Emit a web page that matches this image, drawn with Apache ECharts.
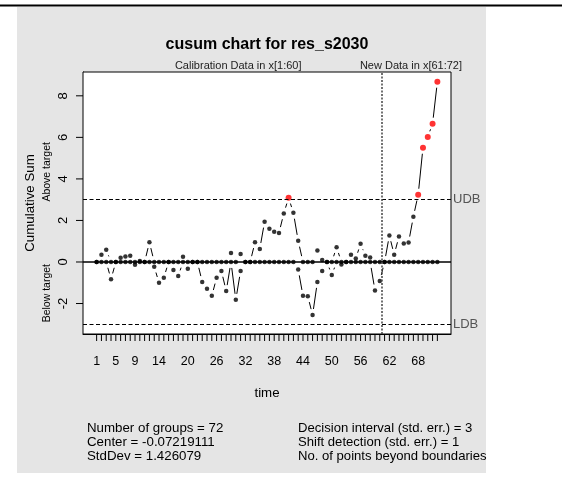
<!DOCTYPE html>
<html>
<head>
<meta charset="utf-8">
<script src="https://cdn.jsdelivr.net/npm/echarts@6/dist/echarts.min.js"></script>
<style>
  html, body { margin: 0; padding: 0; background: #fff; }
  #chart { width: 562px; height: 504px; }
</style>
</head>
<body>
<div id="chart"></div>
<script>
// Upper (above target) cumulative sums, one per group
const cusumPos = [
  0, 0.35, 0.59, 0, 0, 0.20, 0.26, 0.30, 0, 0.05,
  0, 0.95, 0, 0, 0, 0, 0, 0, 0.25, 0,
  0, 0, 0, 0, 0, 0, 0, 0, 0.43, 0,
  0.38, 0, 0, 0.95, 0.63, 1.94, 1.60, 1.45, 1.40, 2.34,
  3.09, 2.37, 1.02, 0, 0, 0, 0.55, 0.10, 0, 0,
  0.71, 0, 0, 0.35, 0.17, 0.88, 0.30, 0.22, 0, 0,
  0, 1.28, 0.35, 1.23, 0.89, 0.94, 2.18, 3.24, 5.50, 6.02,
  6.66, 8.68
];
// Lower (below target) cumulative sums, drawn as negative values
const cusumNeg = [
  0, 0, 0, -0.83, 0, 0, 0, 0, -0.13, 0,
  0, 0, -0.23, -1.00, -0.76, 0, -0.39, -0.68, 0, -0.33,
  0, 0, -0.96, -1.29, -1.63, -0.76, -0.43, -1.40, 0, -1.82,
  -0.43, 0, 0, 0, 0, 0, 0, 0, 0, 0,
  0, 0, -0.36, -1.63, -1.65, -2.55, -0.96, -0.43, 0, -0.63,
  0, -0.12, 0, 0, 0, 0, 0, 0, -1.37, -0.91,
  0, 0, 0, 0, 0, 0, 0, 0, 0, 0,
  0, 0
];
const xTickLabels = [1, 5, 9, 14, 20, 26, 32, 38, 44, 50, 56, 62, 68];
const yTickLabels = [-2, 0, 2, 4, 6, 8];
const decisionInterval = 3;
const calibrationSize = 60;
const statsLeft = [
  'Number of groups = 72',
  'Center = -0.07219111',
  'StdDev = 1.426079'
];
const statsRight = [
  'Decision interval (std. err.) = 3',
  'Shift detection (std. err.) = 1',
  'No. of points beyond boundaries'
];

const FONT = '"Liberation Sans", Arial, Helvetica, sans-serif';
const n = cusumPos.length;
const groups = cusumPos.map((_, i) => i + 1);

// axis limits: data range plus 4% on each side
const yLo = Math.min(...cusumNeg, -decisionInterval);
const yHi = Math.max(...cusumPos, decisionInterval);
const yPad = 0.04 * (yHi - yLo);
const xPad = 0.04 * (n - 1);
const xMin = 1 - xPad, xMax = n + xPad;
const yMin = yLo - yPad, yMax = yHi + yPad;

const beyond = v => Math.abs(v) > decisionInterval;

function segments(values) {
  const out = [];
  for (let i = 0; i < values.length - 1; i++) {
    out.push([groups[i], values[i], groups[i + 1], values[i + 1]]);
  }
  return out;
}

// line pieces between consecutive points, leaving a gap around each point
const GAP = 6;
function renderSegment(params, api) {
  const p0 = api.coord([api.value(0), api.value(1)]);
  const p1 = api.coord([api.value(2), api.value(3)]);
  const dx = p1[0] - p0[0], dy = p1[1] - p0[1];
  const len = Math.hypot(dx, dy);
  if (len <= 2 * GAP + 0.5) return null;
  const ux = dx / len, uy = dy / len;
  return {
    type: 'line',
    shape: {
      x1: p0[0] + ux * GAP, y1: p0[1] + uy * GAP,
      x2: p1[0] - ux * GAP, y2: p1[1] - uy * GAP
    },
    style: { stroke: '#000', lineWidth: 1 }
  };
}

function pointSeries(values) {
  return {
    type: 'scatter',
    data: values.map((v, i) => [groups[i], v]),
    symbol: 'circle',
    symbolSize: v => (beyond(v[1]) ? 6 : 4.5),
    itemStyle: { color: p => (beyond(p.value[1]) ? '#ff0000' : '#000') },
    silent: true,
    z: 3
  };
}

function segmentSeries(values) {
  return {
    type: 'custom',
    data: segments(values),
    encode: { x: [0, 2], y: [1, 3] },
    renderItem: renderSegment,
    clip: true,
    silent: true,
    z: 2
  };
}

// outward tick marks on the bottom (every group) and left (labelled values) edges
const TICK = 7;
const tickSeries = [
  {
    type: 'custom', silent: true, clip: false, z: 4,
    data: groups.map(g => [g, yMin]),
    encode: { x: 0, y: 1 },
    renderItem: (params, api) => {
      const p = api.coord([api.value(0), api.value(1)]);
      return { type: 'line', shape: { x1: p[0], y1: p[1], x2: p[0], y2: p[1] + TICK },
               style: { stroke: '#000', lineWidth: 1 } };
    }
  },
  {
    type: 'custom', silent: true, clip: false, z: 4,
    data: yTickLabels.map(v => [xMin, v]),
    encode: { x: 0, y: 1 },
    renderItem: (params, api) => {
      const p = api.coord([api.value(0), api.value(1)]);
      return { type: 'line', shape: { x1: p[0] - TICK, y1: p[1], x2: p[0], y2: p[1] },
               style: { stroke: '#000', lineWidth: 1 } };
    }
  }
];

const boundLabel = {
  show: true, position: 'end', distance: 2,
  color: '#555', fontSize: 13, fontFamily: FONT
};

const chart = echarts.init(document.getElementById('chart'), null, { renderer: 'canvas' });

chart.setOption({
  backgroundColor: '#fff',
  animation: false,
  grid: {
    left: 83, top: 72, width: 368, height: 262,
    show: true, backgroundColor: '#fff', borderColor: '#000', borderWidth: 1, z: 1
  },
  xAxis: {
    type: 'value',
    min: xMin, max: xMax,
    axisLine: { show: true, onZero: false, lineStyle: { color: '#000', width: 1 } },
    splitLine: { show: false },
    axisTick: { show: false },
    axisLabel: { customValues: xTickLabels, margin: 21, fontSize: 12.5, color: '#000', fontFamily: FONT },
    name: 'time', nameLocation: 'middle', nameGap: 53,
    nameTextStyle: { fontSize: 13.3, color: '#000', fontFamily: FONT }
  },
  yAxis: {
    type: 'value',
    min: yMin, max: yMax,
    axisLine: { show: true, onZero: false, lineStyle: { color: '#000', width: 1 } },
    splitLine: { show: false },
    axisTick: { show: false },
    axisLabel: { customValues: yTickLabels, rotate: 90, margin: 13, fontSize: 13, color: '#000', fontFamily: FONT },
    name: 'Cumulative Sum', nameLocation: 'middle', nameGap: 46, nameRotate: 90,
    nameTextStyle: { fontSize: 13.3, color: '#000', fontFamily: FONT }
  },
  series: [
    {
      type: 'line', data: [], silent: true, z: 2,
      markLine: {
        silent: true, animation: false, symbol: ['none', 'none'],
        data: [
          { yAxis: 0, lineStyle: { type: 'solid', color: '#000', width: 1.5 }, label: { show: false } },
          { yAxis: decisionInterval, lineStyle: { type: [4, 2.5], color: '#000', width: 1 },
            label: Object.assign({ formatter: 'UDB' }, boundLabel) },
          { yAxis: -decisionInterval, lineStyle: { type: [4, 2.5], color: '#000', width: 1 },
            label: Object.assign({ formatter: 'LDB' }, boundLabel) },
          { xAxis: calibrationSize + 0.5, lineStyle: { type: [2, 1.5], color: '#444', width: 1.5 }, label: { show: false } }
        ]
      }
    },
    segmentSeries(cusumPos),
    segmentSeries(cusumNeg),
    pointSeries(cusumPos),
    pointSeries(cusumNeg)
  ].concat(tickSeries)
});

// texts placed from the axis scales
const px = (x, y) => chart.convertToPixel({ gridIndex: 0 }, [x, y]);
const plotTop = px(0, yMax)[1];
const plotMidX = (px(xMin, 0)[0] + px(xMax, 0)[0]) / 2;

function txt(text, x, y, opts) {
  const o = opts || {};
  return {
    type: 'text', x: x, y: y, rotation: o.rotation || 0, silent: true, z: 5,
    style: {
      text: text,
      font: (o.weight || 'normal') + ' ' + (o.size || 13.3) + 'px ' + FONT,
      fill: o.fill || '#000',
      align: o.align || 'left', textAlign: o.align || 'left',
      verticalAlign: o.valign || 'middle', textVerticalAlign: o.valign || 'middle'
    }
  };
}

const graphics = [
  { type: 'rect', shape: { x: 17, y: 7, width: 469, height: 466 }, style: { fill: '#e5e5e5' }, z: -10, silent: true },
  { type: 'rect', shape: { x: 0, y: 4.5, width: 562, height: 2 }, style: { fill: '#000' }, z: -9, silent: true },
  txt('cusum chart for res_s2030', plotMidX, 45, { size: 16, weight: 'bold', align: 'center' }),
  txt('Calibration Data in x[1:' + calibrationSize + ']', px((1 + calibrationSize) / 2, 0)[0], plotTop - 1,
      { size: 11, align: 'center', valign: 'bottom', fill: '#222' }),
  txt('New Data in x[' + (calibrationSize + 1) + ':' + n + ']', px((calibrationSize + 1 + n) / 2, 0)[0], plotTop - 1,
      { size: 11, align: 'center', valign: 'bottom', fill: '#222' }),
  txt('Above target', 47, px(0, yHi / 2)[1], { size: 10.5, align: 'center', rotation: Math.PI / 2 }),
  txt('Below target', 47, px(0, yLo / 2)[1], { size: 10.5, align: 'center', rotation: Math.PI / 2 })
];
statsLeft.forEach((s, i) => graphics.push(txt(s, 87, 428 + i * 14, { size: 13.3 })));
statsRight.forEach((s, i) => graphics.push(txt(s, 298, 428 + i * 14, { size: 13.1 })));

chart.setOption({ graphic: { elements: graphics } });
</script>
</body>
</html>
